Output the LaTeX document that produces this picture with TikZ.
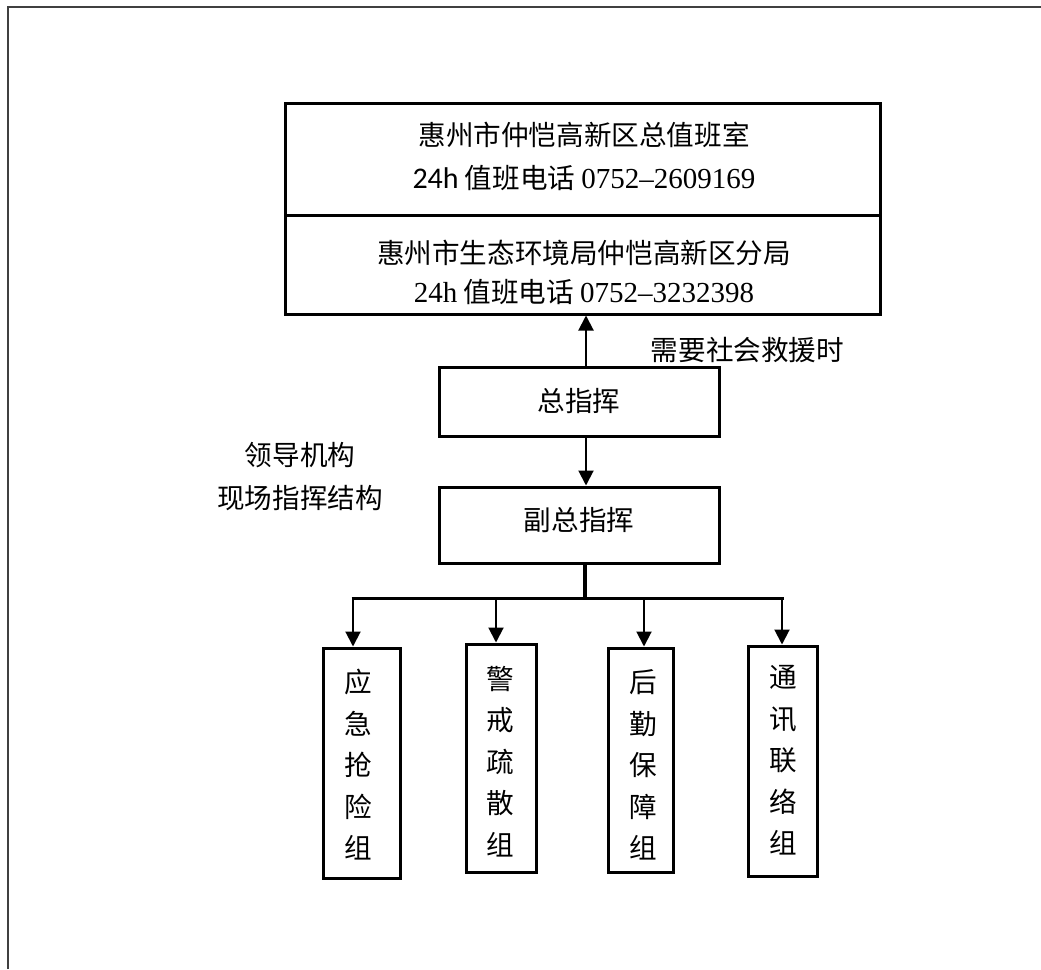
\documentclass[tikz,border=0pt]{standalone}
\usepackage{fontspec}
\usetikzlibrary{arrows.meta}
\newfontfamily\cjk{Noto Sans CJK SC}
\newfontfamily\latn{Liberation Serif}
\newfontfamily\calfont{Carlito}
\newcommand{\num}[1]{{\latn\fontsize{29}{29}\selectfont #1}}
\begin{document}
\begin{tikzpicture}[x=1pt,y=-1pt,
  box/.style={draw=black,line width=3pt,inner sep=0pt},
  txt/.style={inner sep=0pt,align=center,font=\cjk\fontsize{27.6}{43}\selectfont},
  vtxt/.style={inner sep=0pt,align=center,font=\cjk\fontsize{27.6}{41.5}\selectfont},
  arr/.style={line width=2pt,-{Triangle[width=15pt,length=15pt]}},
  bar/.style={line width=3pt}]
\useasboundingbox (0,0) rectangle (1041,969);
% page frame
\coordinate (fa) at (8,969);
\coordinate (fb) at (8,7);
\coordinate (fc) at (1041,7);
\draw[line width=1.5pt,black!75] (fa) -- (fb) -- (fc);
% top boxes
\node[box,minimum width=595,minimum height=112] (top1) at (582.5,159) {};
\node[box,minimum width=595,minimum height=99] (top2) at (582.5,264.5) {};
\node[txt] (t1) at (584,156.5) {惠州市仲恺高新区总值班室\\{\calfont\fontsize{30}{30}\selectfont 24h} 值班电话 \num{0752–2609169}};
\node[txt,font=\cjk\fontsize{27.6}{39}\selectfont] (t2) at (584,272.5) {惠州市生态环境局仲恺高新区分局\\\num{24h} 值班电话 \num{0752–3232398}};
% command boxes
\node[box,minimum width=280,minimum height=69,font=\cjk\fontsize{27.6}{30}\selectfont] (zong) at (579,401.5) {总指挥};
\node[box,minimum width=280,minimum height=76] (fu) at (579,525) {};
\node[txt] (fut) at (579,520) {副总指挥};
% labels
\node[txt] (need) at (747.5,350) {需要社会救援时};
\node[txt] (lead) at (300,476.5) {领导机构\\现场指挥结构};
% arrows up / down
\coordinate (ax) at (586,0);
\draw[arr] (zong.north -| ax) -- (top2.south -| ax);
\draw[arr] (zong.south -| ax) -- (fu.north -| ax);
% groups
\node[box,minimum width=77,minimum height=230] (g1) at (361.5,763) {};
\node[box,minimum width=70,minimum height=228] (g2) at (501,758) {};
\node[box,minimum width=65,minimum height=224] (g3) at (640.5,760) {};
\node[box,minimum width=69,minimum height=230] (g4) at (782.5,761) {};
\node[vtxt] (g1t) at (358,765) {应\\急\\抢\\险\\组};
\node[vtxt] (g2t) at (500,761.5) {警\\戒\\疏\\散\\组};
\node[vtxt] (g3t) at (643,765) {后\\勤\\保\\障\\组};
\node[vtxt] (g4t) at (783,760.5) {通\\讯\\联\\络\\组};
% branch
\coordinate (bx) at (585,598);
\coordinate (b1) at (353,598);
\coordinate (b2) at (496,598);
\coordinate (b3) at (644,598);
\coordinate (b4) at (782,598);
\draw[line width=4pt] (fu.south -| bx) -- (bx);
\draw[bar] ([xshift=-1.5pt]b1) -- ([xshift=1.5pt]b4);
\draw[arr] (b1) -- (b1 |- g1.north);
\draw[arr] (b2) -- (b2 |- g2.north);
\draw[arr] (b3) -- (b3 |- g3.north);
\draw[arr] (b4) -- (b4 |- g4.north);
\end{tikzpicture}
\end{document}
